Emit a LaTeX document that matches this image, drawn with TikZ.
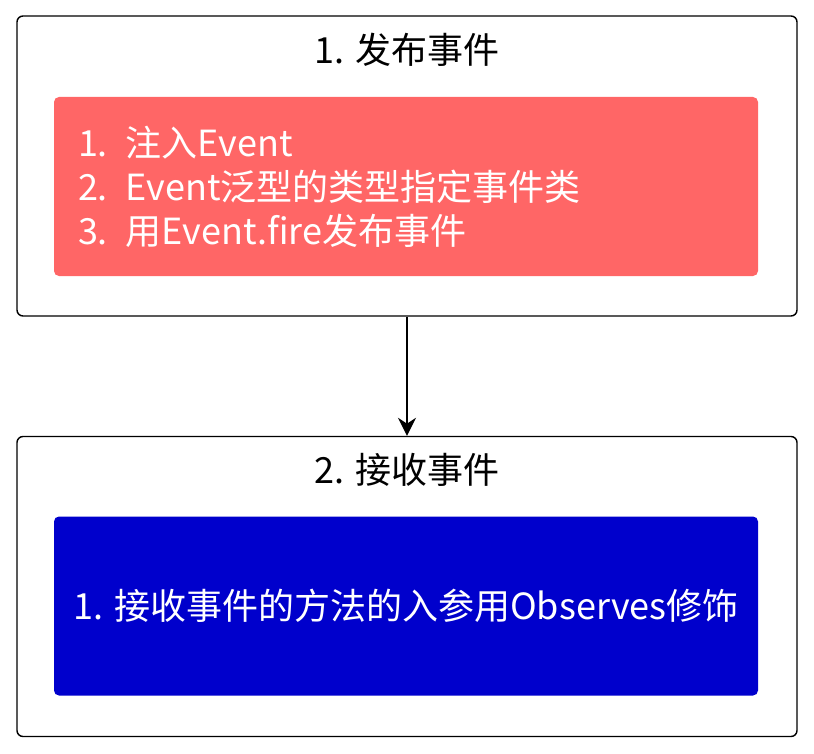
\documentclass[tikz,border=0pt]{standalone}
\usepackage{fontspec}
\setmainfont{Noto Sans CJK SC}
\usepackage{tikz}
\usetikzlibrary{arrows.meta, positioning}
\definecolor{firered}{RGB}{255, 102, 102}
\definecolor{obsblue}{RGB}{0, 0, 204}

\begin{document}
\begin{tikzpicture}[x=1pt, y=-1pt,
  stage/.style={draw=black, line width=1.4pt, rounded corners=6pt, minimum width=780pt, minimum height=300pt},
  card/.style={rounded corners=5pt, text=white, minimum width=704pt, minimum height=179pt, font=\fontsize{36pt}{44pt}\selectfont},
  title/.style={font=\fontsize{36pt}{40pt}\selectfont}]
  \useasboundingbox (0,0) rectangle (814,754);
  % step 1: publish
  \node[stage] (publish) at (407,166) {};
  \node[title] (publishtitle) at (407,50) {1. 发布事件};
  \node[card, fill=firered, text width=656pt, inner xsep=24pt, align=left] (publishcard) at (406,186.5) {
    1. 注入Event\\
    2. Event泛型的类型指定事件类\\
    3. 用Event.fire发布事件
  };
  % step 2: receive
  \node[stage] (receive) at (407,586.5) {};
  \node[title] (receivetitle) at (407,470) {2. 接收事件};
  \node[card, fill=obsblue, align=center] (receivecard) at (406,606) {1. 接收事件的方法的入参用Observes修饰};
  \draw[line width=1.4pt, -{Stealth[length=18pt, width=18pt]}] (publish.south) -- (receive.north);
\end{tikzpicture}
\end{document}
